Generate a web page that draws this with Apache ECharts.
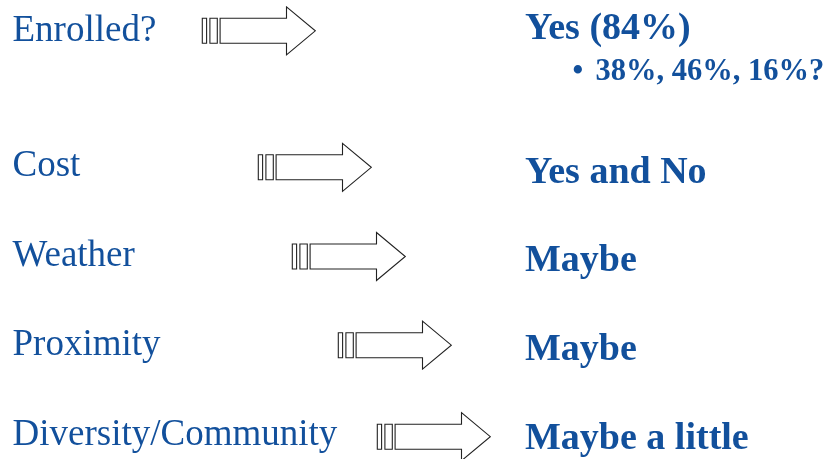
<!DOCTYPE html>
<html>
<head>
<meta charset="utf-8">
<script src="https://cdn.jsdelivr.net/npm/echarts@6/dist/echarts.min.js"></script>
<style>
html,body{margin:0;padding:0;background:#fff;}
#chart{width:836px;height:459px;}
</style>
</head>
<body>
<div id="chart"></div>
<script>
// ---- content ----
var factors = ['Enrolled?', 'Cost', 'Weather', 'Proximity', 'Diversity/Community'];
var answers = ['Yes (84%)', 'Yes and No', 'Maybe', 'Maybe', 'Maybe a little'];
var subPoints = ['38%, 46%, 16%?', '', '', '', ''];

// ---- layout (pixels) ----
var rowBaseline = [40, 175, 265, 354, 443.5];
var answerBaseline = [38, 182, 270, 359, 448];
var arrowStartX = [202.3, 258.3, 292.3, 338.3, 377.3];
var arrowCenterY = [30.8, 167.3, 256.5, 345.2, 436.7];
var subBaseline = [78];

var BLUE = '#12509c';
var FONT = '"Liberation Serif", "Times New Roman", serif';
var FS = 37, BFS = 38, SUBFS = 30.5;
var OFF = 0.23, SUBOFF = 0.2;

var chart = echarts.init(document.getElementById('chart'), null, {renderer: 'canvas'});

function renderItem(params, api) {
  var i = api.value(0);
  var children = [];
  var p = api.coord([12.5, rowBaseline[i] - FS * OFF]);
  children.push({type: 'text', style: {x: p[0], y: p[1], text: factors[i], fill: BLUE,
    font: FS + 'px ' + FONT, verticalAlign: 'middle', align: 'left'}});
  // arrow
  var a = api.coord([arrowStartX[i], arrowCenterY[i]]);
  var x0 = a[0], cy = a[1];
  var sh = 12.5, hh = 24;
  var strokeStyle = {fill: '#fff', stroke: '#222', lineWidth: 1.1};
  children.push({type: 'rect', shape: {x: x0, y: cy - sh, width: 4.3, height: sh * 2}, style: strokeStyle});
  children.push({type: 'rect', shape: {x: x0 + 7.6, y: cy - sh, width: 7.4, height: sh * 2}, style: strokeStyle});
  children.push({type: 'polygon', shape: {points: [
    [x0 + 17.8, cy - sh], [x0 + 84.2, cy - sh], [x0 + 84.2, cy - hh], [x0 + 113, cy],
    [x0 + 84.2, cy + hh], [x0 + 84.2, cy + sh], [x0 + 17.8, cy + sh]]}, style: strokeStyle});
  var q = api.coord([525, answerBaseline[i] - BFS * OFF]);
  children.push({type: 'text', style: {x: q[0], y: q[1], text: answers[i], fill: BLUE,
    font: 'bold ' + BFS + 'px ' + FONT, verticalAlign: 'middle', align: 'left'}});
  if (subPoints[i]) {
    var b = api.coord([572.5, subBaseline[i] - SUBFS * SUBOFF]);
    children.push({type: 'text', style: {x: b[0], y: b[1], text: '\u2022', fill: BLUE,
      font: 'bold ' + SUBFS + 'px ' + FONT, verticalAlign: 'middle', align: 'left'}});
    var s = api.coord([595.5, subBaseline[i] - SUBFS * SUBOFF]);
    children.push({type: 'text', style: {x: s[0], y: s[1], text: subPoints[i], fill: BLUE,
      font: 'bold ' + SUBFS + 'px ' + FONT, verticalAlign: 'middle', align: 'left'}});
  }
  return {type: 'group', children: children};
}

chart.setOption({
  animation: false,
  backgroundColor: '#fff',
  grid: {left: 0, right: 0, top: 0, bottom: 0},
  xAxis: {type: 'value', min: 0, max: 836, show: false},
  yAxis: {type: 'value', min: 0, max: 459, inverse: true, show: false},
  series: [{
    type: 'custom',
    clip: false,
    renderItem: renderItem,
    data: factors.map(function (f, i) { return [i]; })
  }]
});
</script>
</body>
</html>
